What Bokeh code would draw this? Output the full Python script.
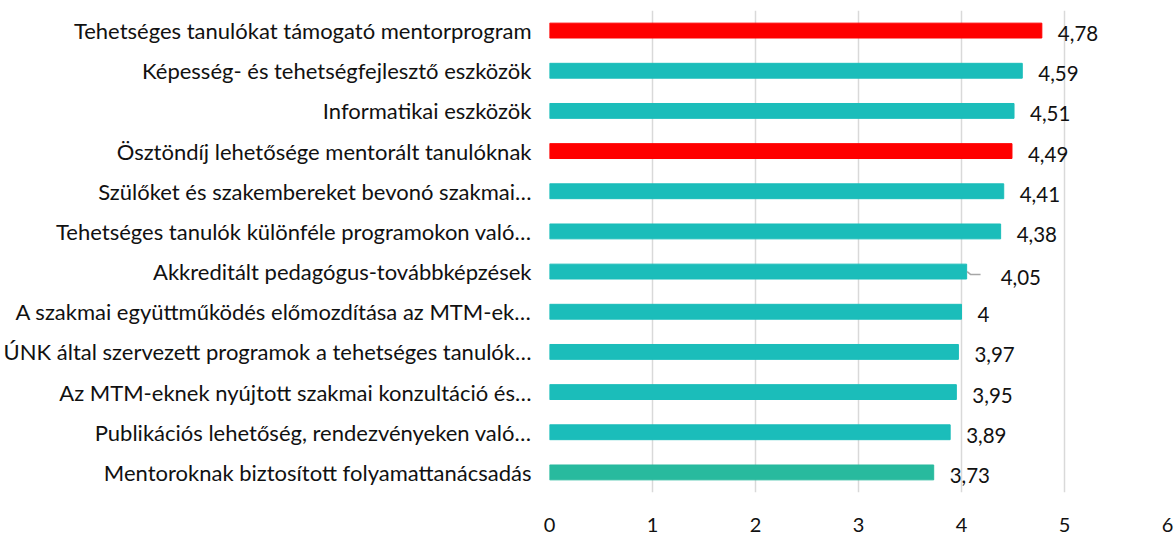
from bokeh.plotting import figure
from bokeh.models import ColumnDataSource, FixedTicker
from bokeh.core.properties import value
from bokeh.embed import file_html
from bokeh.resources import INLINE

categories = [
    "Tehetséges tanulókat támogató mentorprogram",
    "Képesség- és tehetségfejlesztő eszközök",
    "Informatikai eszközök",
    "Ösztöndíj lehetősége mentorált tanulóknak",
    "Szülőket és szakembereket bevonó szakmai…",
    "Tehetséges tanulók különféle programokon való…",
    "Akkreditált pedagógus-továbbképzések",
    "A szakmai együttműködés előmozdítása az MTM-ek…",
    "ÚNK által szervezett programok a tehetséges tanulók…",
    "Az MTM-eknek nyújtott szakmai konzultáció és…",
    "Publikációs lehetőség, rendezvényeken való…",
    "Mentoroknak biztosított folyamattanácsadás",
]
values = [4.78, 4.59, 4.51, 4.49, 4.41, 4.38, 4.05, 4.00, 3.97, 3.95, 3.89, 3.73]
bar_colors = ["#FF0000", "#1BBDBA", "#1BBDBA", "#FF0000", "#1BBDBA", "#1BBDBA",
              "#1BBDBA", "#1BBDBA", "#1BBDBA", "#1BBDBA", "#1BBDBA", "#28BA9E"]
value_labels = [f"{v:g}".replace(".", ",") for v in values]
x_ticks = [0, 1, 2, 3, 4, 5, 6]

FONT = "Lato"

normal_idx = [i for i in range(len(values)) if i != 6]
moved_idx = [6]

src_bars = ColumnDataSource(dict(cat=categories, val=values, color=bar_colors))
src_lab = ColumnDataSource(dict(cat=[categories[i] for i in normal_idx],
                                val=[values[i] for i in normal_idx],
                                lab=[value_labels[i] for i in normal_idx]))
src_lab2 = ColumnDataSource(dict(cat=[categories[i] for i in moved_idx],
                                 val=[values[i] for i in moved_idx],
                                 lab=[value_labels[i] for i in moved_idx]))

p = figure(width=1176, height=534, y_range=list(reversed(categories)),
           x_range=(0, 6), output_backend="svg", toolbar_location=None,
           min_border_left=549, min_border_right=9, min_border_top=10,
           min_border_bottom=39)

p.hbar(y="cat", right="val", left=0, height=0.37, color="color", source=src_bars)

p.text(x="val", y="cat", text="lab", source=src_lab, x_offset=16, y_offset=3,
       text_font=value(FONT), text_font_size="20.5px", text_color="#111111",
       text_align="left", text_baseline="middle")
p.text(x="val", y="cat", text="lab", source=src_lab2, x_offset=34, y_offset=6,
       text_font=value(FONT), text_font_size="20.5px", text_color="#111111",
       text_align="left", text_baseline="middle")

# leader line for the moved label
lv = values[6]
c6 = categories[6]
p.line(x=[lv + 0.005, lv + 0.04, lv + 0.135], y=[(c6, 0.0), (c6, -0.075), (c6, -0.075)],
       line_color="#A6A6A6", line_width=1.5)

p.xgrid.grid_line_color = "#D9D9D9"
p.xgrid.grid_line_width = 1.5
p.ygrid.grid_line_color = None
p.outline_line_color = None
p.xaxis.ticker = FixedTicker(ticks=x_ticks)
p.xaxis.axis_line_color = None
p.xaxis.major_tick_line_color = None
p.xaxis.minor_tick_line_color = None
p.xaxis.major_label_text_font = FONT
p.xaxis.major_label_text_font_size = "20px"
p.xaxis.major_label_text_color = "#111111"
p.xaxis.major_label_standoff = 19

p.yaxis.axis_line_color = None
p.yaxis.major_tick_line_color = None
p.yaxis.major_label_text_font = FONT
p.yaxis.major_label_text_font_size = "22px"
p.yaxis.major_label_text_color = "#111111"
p.yaxis.major_label_standoff = 12

open("out.html", "w").write(file_html(p, INLINE))
